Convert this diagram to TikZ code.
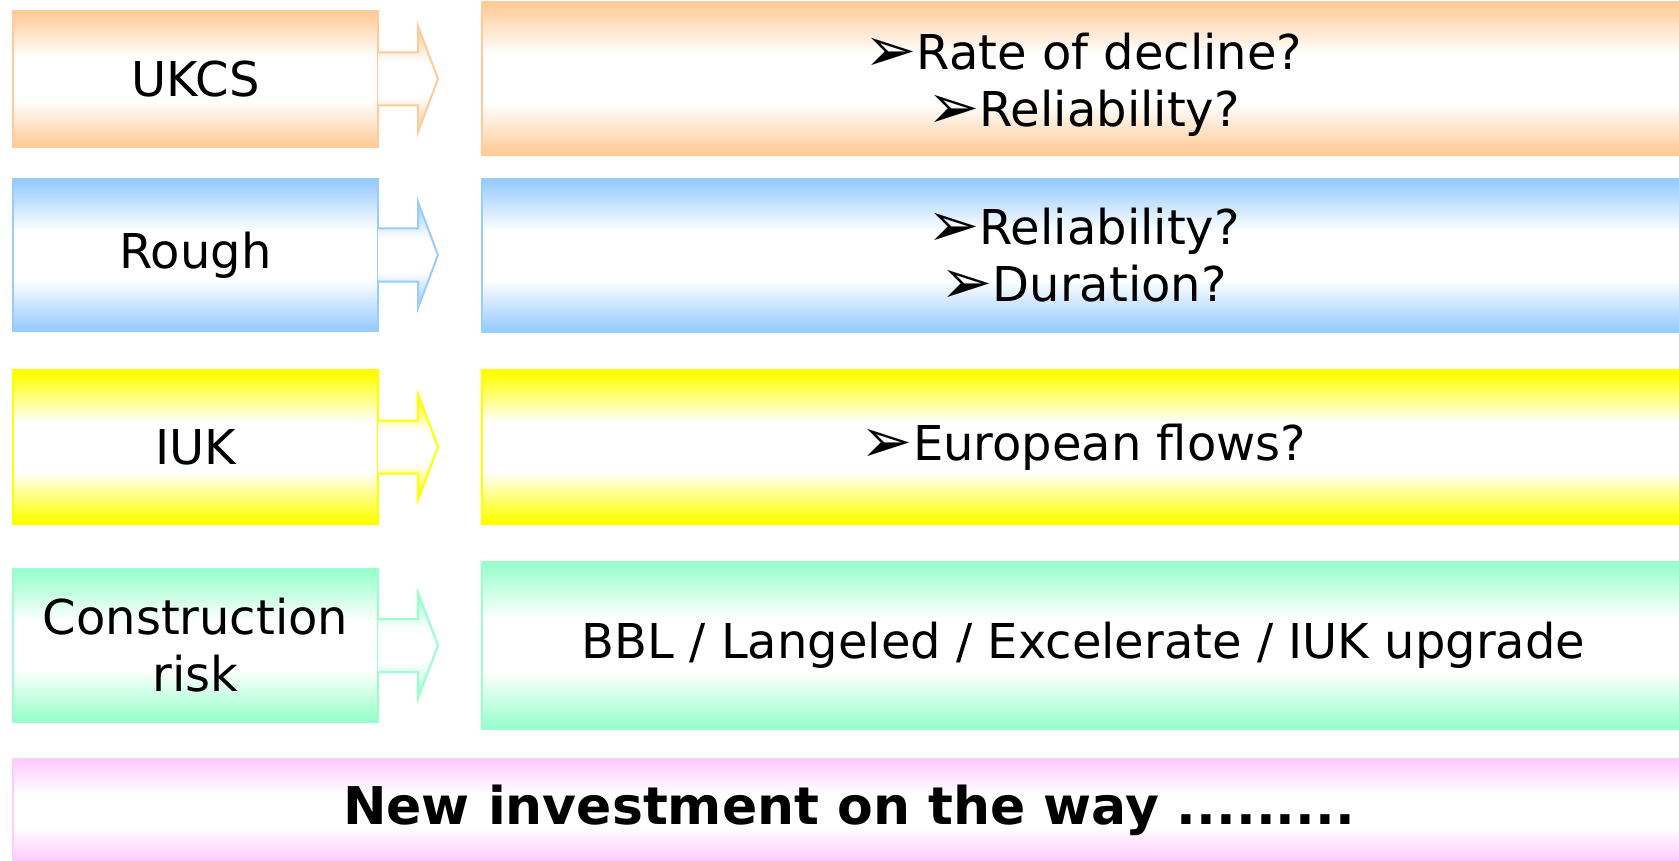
\documentclass[tikz,border=0pt]{standalone}
\usepackage{fontspec}
\setmainfont{DejaVu Sans}
\usepackage{graphicx}
\usepackage{tikz}
\usetikzlibrary{calc}
\definecolor{ukcsc}{HTML}{FFCC99}
\definecolor{roughc}{HTML}{99CCFF}
\definecolor{iukc}{HTML}{FFFF00}
\definecolor{buildc}{HTML}{99FFCC}
\definecolor{investc}{HTML}{FFCCFF}
\colorlet{bandcol}{ukcsc}
\pgfdeclareverticalshading[bandcol]{band}{100bp}{color(0bp)=(bandcol); color(26bp)=(bandcol); color(42bp)=(white); color(58bp)=(white); color(74bp)=(bandcol); color(100bp)=(bandcol)}
\tikzset{
	band/.code={\colorlet{bandcol}{#1}\pgfkeysalso{shade, shading=band, draw=#1}},
	box/.style={line width=1.5pt, inner sep=0pt, outer sep=0pt, align=center, font=\fontsize{48}{57}\selectfont},
}
\def\pointer{\raisebox{-0.04em}{\scalebox{1.3}{➢}}}
\def\blockarrow[#1](#2){\draw[#1, line width=2pt] (#2) ++(0,-26.5) -- ++(40,0) -- ++(0,-26.5) -- ++(20,53) -- ++(-20,53) -- ++(0,-26.5) -- ++(-40,0);}

\begin{document}
\begin{tikzpicture}[x=1pt, y=-1pt]
			%%%%% START %%%%%
			\useasboundingbox (0,0) rectangle (1679,861);
			
			\node[box, band=ukcsc, minimum width=365pt, minimum height=136pt] (ukcs) at (195.5, 79) {UKCS};
			\node[box, band=ukcsc, minimum width=1203pt, minimum height=153pt] (ukcsq) at (1083.5, 78.5) {\raisebox{-14pt}[0pt][0pt]{\begin{tabular}{@{}c@{}}\pointer Rate of decline?\\\pointer Reliability?\end{tabular}}};
			\blockarrow[band=ukcsc](ukcs.east)
			
			\node[box, band=roughc, minimum width=365pt, minimum height=152pt] (rough) at (195.5, 255) {Rough};
			\node[box, band=roughc, minimum width=1203pt, minimum height=153pt] (roughq) at (1083.5, 255.5) {\pointer Reliability?\\\pointer Duration?};
			\blockarrow[band=roughc](rough.east)
			
			\node[box, band=iukc, minimum width=365pt, minimum height=154pt] (iuk) at (195.5, 447) {IUK};
			\node[box, band=iukc, minimum width=1203pt, minimum height=154pt] (iukq) at (1083.5, 447) {\pointer European flows?};
			\blockarrow[band=iukc](iuk.east)
			
			\node[box, band=buildc, minimum width=365pt, minimum height=153pt] (build) at (195.5, 645.5) {Construction\\risk};
			\node[box, band=buildc, minimum width=1203pt, minimum height=167pt] (buildq) at (1083.5, 645.5) {BBL / Langeled / Excelerate / IUK upgrade};
			\blockarrow[band=buildc](build.east)
			
			\node[box, band=investc, minimum width=1672pt, minimum height=103pt, font=\fontsize{52}{60}\selectfont\bfseries] (invest) at (849, 810.5) {New investment on the way .........};
			
			%%%%% END %%%%%
\end{tikzpicture}
\end{document}
